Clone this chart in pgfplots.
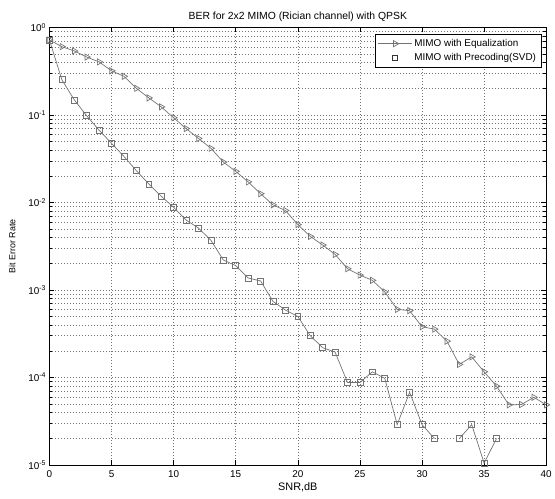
\documentclass[border=0pt]{standalone}
\usepackage{pgfplots}
\pgfplotsset{compat=1.18}
\usepackage{fontspec}
\setmainfont{Liberation Sans}

\pgfplotstableread{
snr ber
0 0.72
1 0.605
2 0.54
3 0.46
4 0.405
5 0.32
6 0.277
7 0.202
8 0.157
9 0.124
10 0.093
11 0.070
12 0.054
13 0.0417
14 0.029
15 0.0227
16 0.0172
17 0.0126
18 0.0094
19 0.0081
20 0.0056
21 0.0041
22 0.00327
23 0.00255
24 0.00175
25 0.00148
26 0.00129
27 0.00095
28 0.0006
29 0.00058
30 0.00038
31 0.000357
32 0.00026
33 0.000141
34 0.000172
35 0.000116
36 0.0000794
37 0.0000486
38 0.000049
39 0.0000593
40 0.0000486
}\equal

\pgfplotstableread{
snr ber
0 0.72
1 0.253
2 0.149
3 0.098
4 0.067
5 0.0475
6 0.0336
7 0.0231
8 0.0163
9 0.0118
10 0.0088
11 0.0063
12 0.0051
13 0.0037
14 0.0022
15 0.0019
16 0.00137
17 0.00127
18 0.00074
19 0.00059
20 0.000498
21 0.0003
22 0.000219
23 0.000195
24 0.0000875
25 0.0000875
26 0.000116
27 0.0000977
28 0.0000289
29 0.0000676
30 0.0000289
31 0.00002
32 nan
33 0.00002
34 0.0000289
35 0.0000105
36 0.00002
}\precod

\definecolor{curve}{gray}{0.45}
\definecolor{gridc}{gray}{0.45}

\begin{document}
\begin{tikzpicture}
\begin{semilogyaxis}[
scale only axis,
width=502pt, height=442pt,
xmin=0, xmax=40, ymin=1e-5, ymax=1,
xtick={0,5,...,40},
ytick={1e-5,1e-4,1e-3,1e-2,1e-1,1},
yticklabels={10\textsuperscript{-5},10\textsuperscript{-4},10\textsuperscript{-3},10\textsuperscript{-2},10\textsuperscript{-1},10\textsuperscript{0}},
minor ytick={2e-5,3e-5,4e-5,5e-5,6e-5,7e-5,8e-5,9e-5,
2e-4,3e-4,4e-4,5e-4,6e-4,7e-4,8e-4,9e-4,
2e-3,3e-3,4e-3,5e-3,6e-3,7e-3,8e-3,9e-3,
2e-2,3e-2,4e-2,5e-2,6e-2,7e-2,8e-2,9e-2,
0.2,0.3,0.4,0.5,0.6,0.7,0.8,0.9},
/pgf/number format/assume math mode=true,
tick align=inside,
major tick length=5pt, minor tick length=3pt,
xmajorgrids, ymajorgrids, yminorgrids,
grid style={draw=gridc, line width=0.5pt, dash pattern=on 0.8pt off 2.2pt},
minor grid style={draw=gridc, line width=0.5pt, dash pattern=on 0.8pt off 2.2pt},
axis line style={black, line width=0.6pt},
tick style={black, line width=0.5pt},
tick label style={font=\fontsize{10}{12}\selectfont},
xticklabel style={yshift=-2pt},
title={BER for 2x2 MIMO (Rician channel) with QPSK},
title style={font=\fontsize{10.5}{12}\selectfont, yshift=-4pt},
xlabel={SNR,dB},
ylabel={Bit Error Rate},
xlabel style={font=\fontsize{11}{12}\selectfont, yshift=2pt},
ylabel style={font=\fontsize{9}{10}\selectfont, yshift=6pt},
unbounded coords=jump,
clip=false,
legend style={at={(0.99,0.985)}, anchor=north east, draw=black, line width=0.6pt,
  font=\fontsize{10}{12}\selectfont, cells={anchor=west}, row sep=1.5pt,
  inner xsep=3pt, inner ysep=3pt},
legend image code/.code={
  \draw[mark repeat=2, mark phase=2, #1] plot coordinates {(0cm,0cm) (0.6cm,0cm) (1.2cm,0cm)};},
]
\addplot[curve, line width=0.7pt, mark=triangle, mark size=3.6pt,
  mark options={solid, rotate=-90, draw=curve, fill=none, line width=0.7pt}]
  table[x=snr, y=ber] {\equal};
\addlegendentry{MIMO with Equalization}
\addplot[curve, line width=0.7pt, mark=square, mark size=3pt,
  mark options={solid, draw=curve, fill=none, line width=0.7pt}, forget plot]
  table[x=snr, y=ber] {\precod};
\addlegendimage{only marks, mark=square, mark size=2.5pt, mark options={draw=black!80, line width=0.6pt}}
\addlegendentry{MIMO with Precoding(SVD)}
\path (rel axis cs:-0.0996,-0.077) (rel axis cs:1.006,1.063);
\end{semilogyaxis}
\end{tikzpicture}
\end{document}
